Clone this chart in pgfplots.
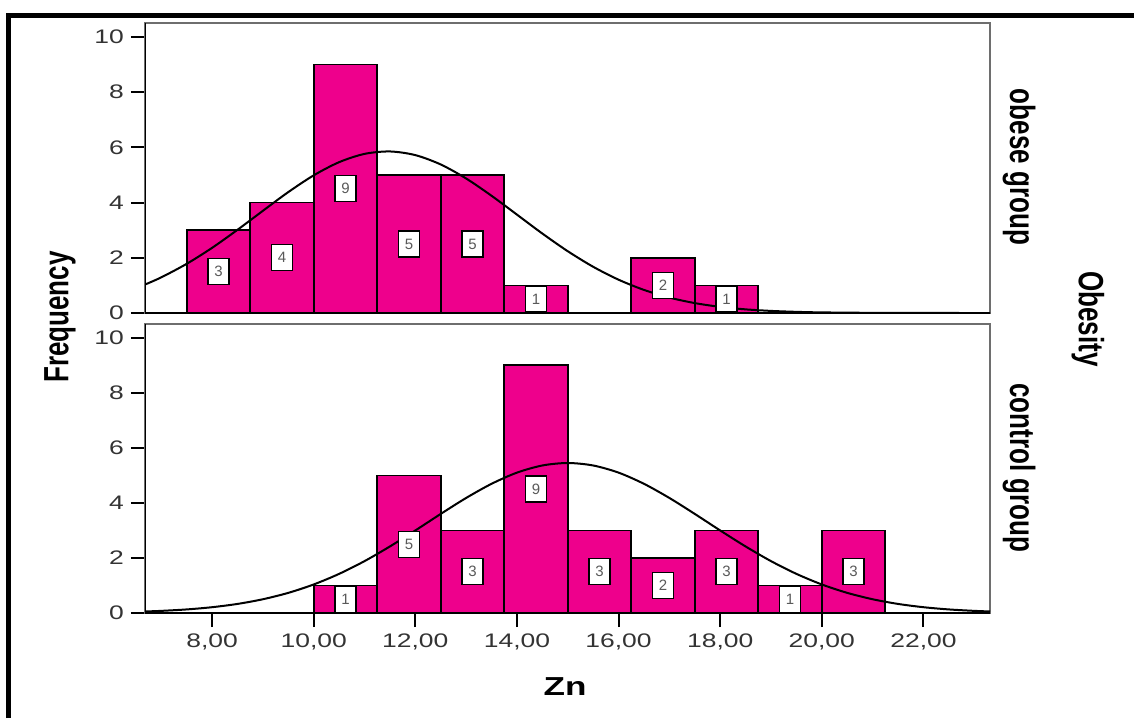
\documentclass[border=0pt]{standalone}
\usepackage{fontspec}
\setmainfont{Liberation Sans}
\usepackage{graphicx}
\usepackage{pgfplots}
\pgfplotsset{compat=1.18}
\definecolor{zpink}{RGB}{238,0,140}
\definecolor{framegray}{RGB}{110,110,110}
\newcommand{\sx}[1]{\scalebox{1.35}[1]{#1}}
\newcommand{\sy}[1]{\scalebox{1}[1.35]{#1}}
\pgfplotsset{panel/.style={
  scale only axis, width=422.5pt,
  xmin=6.68, xmax=23.31, ymin=0, ymax=10.5,
  ytick={0,2,4,6,8,10},
  yticklabels={{\sx{0}},{\sx{2}},{\sx{4}},{\sx{6}},{\sx{8}},{\sx{10}}},
  ytick pos=left, xtick pos=bottom, tick align=outside, major tick length=7pt,
  axis line style={draw=framegray, line width=0.8pt},
  tick style={black, line width=1pt},
  tick label style={font=\fontsize{9.8}{11}\selectfont, text=black!80},
  anchor=south west,
},
binlab/.style={draw=none, mark=none, nodes near coords, point meta=explicit symbolic,
  every node near coord/.style={draw=black, fill=white, line width=0.7pt,
    font=\fontsize{7.5}{8}\selectfont, text=black!65, inner sep=0pt,
    minimum width=10.5pt, minimum height=13pt, anchor=center}},
histo/.style={ybar interval, fill=zpink, draw=black, line width=0.85pt},
curve/.style={smooth, black, line width=1pt, mark=none}
}
\begin{document}
\begin{tikzpicture}
\useasboundingbox (0pt,0pt) rectangle (567pt,-359pt);
% outer frame (top and left)
\draw[black, line width=2.5pt] (4.25pt,-359pt) -- (4.25pt,-7.5pt) -- (567pt,-7.5pt);

% ---------- top panel: obese group ----------
\begin{axis}[panel, at={(72.5pt,-156.5pt)}, height=145pt, xtick=\empty]
\addplot[histo] coordinates {(7.5,3) (8.75,4) (10,9) (11.25,5) (12.5,5) (13.75,1) (15,0) (16.25,2) (17.5,1) (18.75,0)};
\addplot[curve] coordinates {(6.68,1.031)(7,1.291)(7.5,1.780)(8,2.359)(8.5,3.012)(9,3.701)(9.5,4.378)(10,4.984)(10.5,5.461)(11,5.761)(11.5,5.849)(12,5.717)(12.5,5.378)(13,4.870)(13.5,4.245)(14,3.562)(14.5,2.877)(15,2.237)(15.5,1.674)(16,1.206)(16.5,0.836)(17,0.558)(17.5,0.359)(18,0.222)(18.5,0.132)(19,0.076)(19.5,0.042)(20,0.022)(21,0.006)(22,0.001)(23.31,0)};
\addplot[binlab] coordinates {(8.125,1.5)[3] (9.375,2)[4] (10.625,4.5)[9] (11.875,2.5)[5] (13.125,2.5)[5] (14.375,0.5)[1] (16.875,1)[2] (18.125,0.5)[1]};
\draw[black, line width=1.2pt] (rel axis cs:0,1) -- (rel axis cs:0,0) -- (rel axis cs:1,0);
\end{axis}

% ---------- bottom panel: control group ----------
\begin{axis}[panel, at={(72.5pt,-306.5pt)}, height=144.5pt,
  xtick={8,10,12,14,16,18,20,22},
  xticklabels={{\sx{8,00}},{\sx{10,00}},{\sx{12,00}},{\sx{14,00}},{\sx{16,00}},{\sx{18,00}},{\sx{20,00}},{\sx{22,00}}}]
\addplot[histo] coordinates {(10,1) (11.25,5) (12.5,3) (13.75,9) (15,3) (16.25,2) (17.5,3) (18.75,1) (20,3) (21.25,0)};
\addplot[curve] coordinates {(6.68,0.055)(7,0.078)(7.5,0.130)(8,0.211)(8.5,0.330)(9,0.500)(9.5,0.732)(10,1.037)(10.5,1.422)(11,1.885)(11.5,2.418)(12,2.999)(12.5,3.600)(13,4.180)(13.5,4.694)(14,5.100)(14.5,5.360)(15,5.450)(15.5,5.360)(16,5.100)(16.5,4.694)(17,4.180)(17.5,3.600)(18,2.999)(18.5,2.418)(19,1.885)(19.5,1.422)(20,1.037)(20.5,0.732)(21,0.500)(21.5,0.330)(22,0.211)(22.5,0.130)(23,0.078)(23.31,0.056)};
\addplot[binlab] coordinates {(10.625,0.5)[1] (11.875,2.5)[5] (13.125,1.5)[3] (14.375,4.5)[9] (15.625,1.5)[3] (16.875,1)[2] (18.125,1.5)[3] (19.375,0.5)[1] (20.625,1.5)[3]};
\draw[black, line width=1.2pt] (rel axis cs:0,1) -- (rel axis cs:0,0) -- (rel axis cs:1,0);
\end{axis}

% ---------- labels ----------
\node[rotate=90, font=\bfseries\fontsize{13}{15}\selectfont] at (30pt,-158.5pt) {\sy{Frequency}};
\node[font=\bfseries\fontsize{13}{15}\selectfont] at (282.5pt,-343.5pt) {\sx{Zn}};
\node[rotate=-90, font=\bfseries\fontsize{13}{15}\selectfont] at (509.5pt,-83.5pt) {\sy{obese group}};
\node[rotate=-90, font=\bfseries\fontsize{13}{15}\selectfont] at (509.5pt,-234pt) {\sy{control group}};
\node[rotate=-90, font=\bfseries\fontsize{13}{15}\selectfont] at (544pt,-159.5pt) {\sy{Obesity}};
\end{tikzpicture}
\end{document}
